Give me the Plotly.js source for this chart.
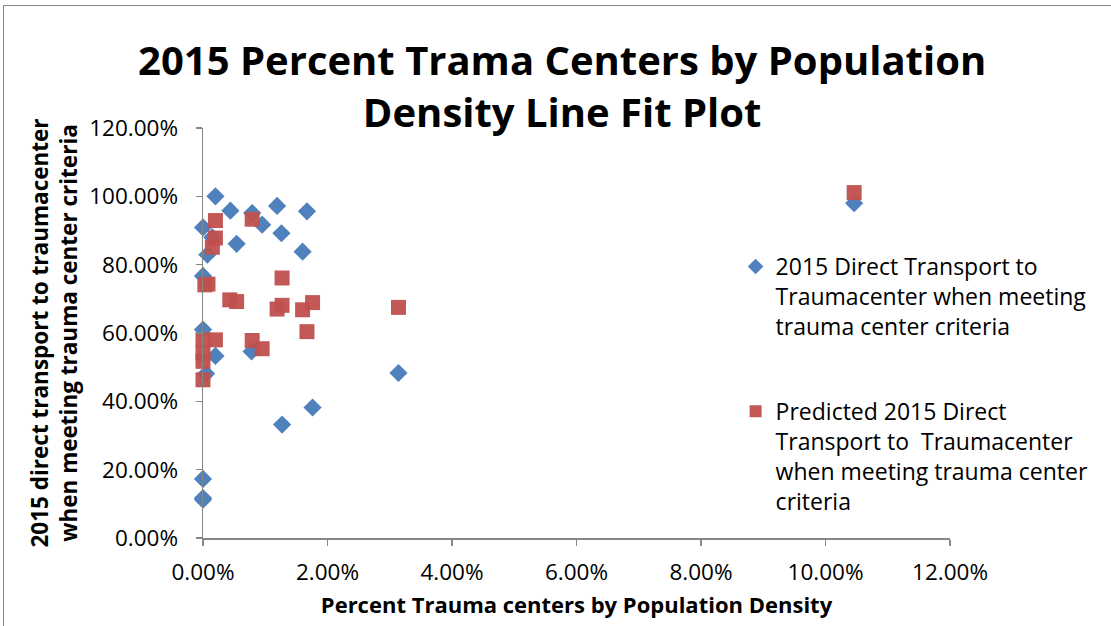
<!DOCTYPE html>
<html>
<head>
<meta charset="utf-8">
<script src="https://cdn.plot.ly/plotly-3.0.1.min.js"></script>
<style>
  html, body { margin: 0; padding: 0; background: #fff; }
  #chart { width: 1111px; height: 626px; position: relative; }
  #frame { position: absolute; left: 3px; top: 5px; width: 1200px; height: 700px;
           border-left: 1.5px solid #8a8a8a; border-top: 1.5px solid #8a8a8a; pointer-events: none; }
</style>
</head>
<body>
<div id="chart"></div>
<div id="frame"></div>
<script>
// Percent trauma centers by population density (%)
const actualX = [0.20, 0.44, 0.79, 0.95, 1.19, 1.67, 0.00, 1.26, 0.54, 1.60, 0.07, 0.15,
                 0.00, 0.00, 0.20, 0.05, 0.78, 3.14, 1.76, 1.27, 0.00, 0.00, 0.00, 10.46];
// 2015 direct transport to traumacenter (%)
const actualY = [100.0, 95.8, 95.1, 91.7, 97.2, 95.6, 90.9, 89.2, 86.1, 83.8, 82.9, 88.0,
                 76.7, 61.0, 53.3, 48.1, 54.6, 48.3, 38.2, 33.2, 17.3, 11.7, 11.2, 98.0];

const predX = [0.20, 0.79, 0.20, 0.15, 0.03, 0.08, 1.27, 0.43, 0.54, 1.19, 1.27, 1.60,
               1.76, 3.14, 1.67, 0.79, 0.95, 0.00, 0.20, 0.00, 0.00, 0.00, 10.46];
const predY = [92.9, 93.3, 87.8, 85.1, 74.1, 74.3, 76.1, 69.7, 69.2, 67.0, 68.1, 66.8,
               68.9, 67.5, 60.4, 57.8, 55.4, 58.0, 58.0, 54.1, 51.7, 46.3, 101.1];

const seriesNames = [
  "2015 Direct Transport to<br>Traumacenter when meeting<br>trauma center criteria",
  "Predicted 2015 Direct<br>Transport to  Traumacenter<br>when meeting trauma center<br>criteria"
];

const FONT = "'Open Sans', 'Noto Sans', sans-serif";

const traces = [
  {
    x: actualX, y: actualY, type: "scatter", mode: "markers", name: seriesNames[0],
    legendgroup: "a",
    marker: { symbol: "diamond", size: 14, color: "#4F81BD", line: { width: 0 } },
    cliponaxis: false
  },
  {
    x: predX, y: predY, type: "scatter", mode: "markers", name: seriesNames[1],
    legendgroup: "b",
    marker: { symbol: "square", size: 15, color: "rgba(192,80,77,0.95)", line: { width: 0 } },
    cliponaxis: false
  }
];

const layout = {
  width: 1111, height: 626, autosize: false,
  paper_bgcolor: "#ffffff", plot_bgcolor: "#ffffff",
  margin: { l: 203, r: 161, t: 128, b: 88 },
  font: { family: FONT, color: "#000000", size: 22 },
  title: {
    text: "<b>2015 Percent Trama Centers by Population<br>Density Line Fit Plot</b>",
    font: { family: FONT, size: 40, color: "#000000" },
    x: 0.506, xanchor: "center", y: 0.880, yanchor: "top"
  },
  xaxis: {
    range: [0, 12], dtick: 2, tick0: 0, tickformat: ".2f", ticksuffix: "%",
    showgrid: false, zeroline: false, showline: true, linecolor: "#868686", linewidth: 1.5,
    ticks: "outside", ticklen: 6, tickcolor: "#868686", tickwidth: 1.5,
    tickfont: { family: FONT, size: 22.5 }, ticklabelstandoff: 7,
    title: { text: "<b>Percent Trauma centers by Population Density</b>", font: { family: FONT, size: 22 }, standoff: 12 },
    fixedrange: true
  },
  yaxis: {
    range: [0, 120], dtick: 20, tick0: 0, tickformat: ".2f", ticksuffix: "%",
    showgrid: false, zeroline: false, showline: true, linecolor: "#868686", linewidth: 1.5,
    ticks: "outside", ticklen: 6, tickcolor: "#868686", tickwidth: 1.5,
    tickfont: { family: FONT, size: 22.5 }, ticklabelstandoff: 13,
    title: { text: "<b>2015 direct transport to traumacenter<br>when meeting trauma center criteria</b>", font: { family: FONT, size: 22.5 }, standoff: 5 },
    fixedrange: true
  },
  showlegend: true,
  legend: {
    x: 0.713, xanchor: "left", y: 0.7145, yanchor: "top", valign: "top",
    font: { family: FONT, size: 23, color: "#000000" },
    bgcolor: "rgba(0,0,0,0)", tracegroupgap: 52, itemsizing: "constant"
  }
};

Plotly.newPlot("chart", traces, layout, { displayModeBar: false, staticPlot: true });
</script>
</body>
</html>
